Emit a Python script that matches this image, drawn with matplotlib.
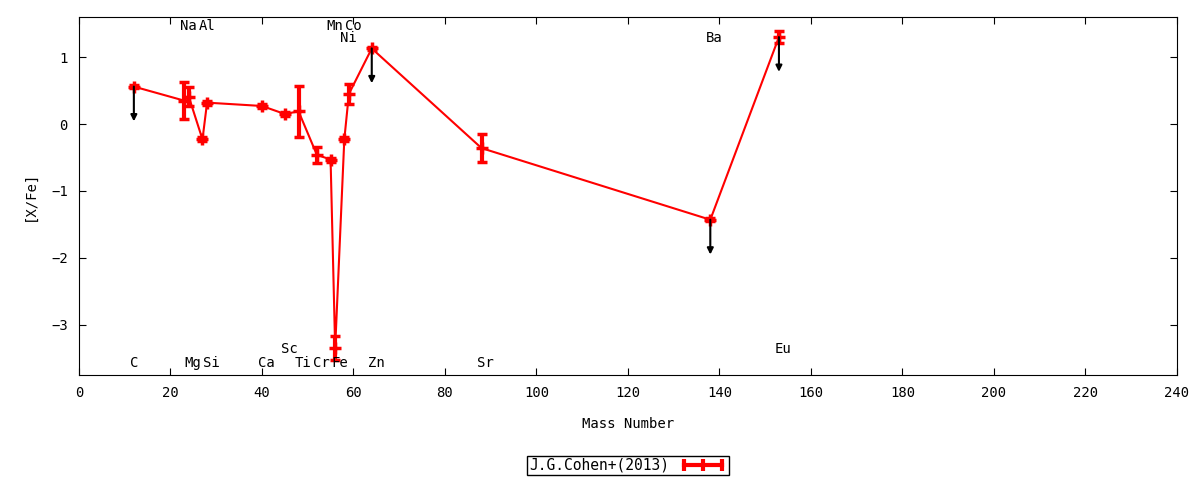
import numpy as np
import matplotlib
matplotlib.use("Agg")
import matplotlib.pyplot as plt
from matplotlib.lines import Line2D

plt.rcParams['font.family'] = ['DejaVu Sans Mono']
plt.rcParams['font.size'] = 10

# abundance data
elements = ['C', 'Na', 'Mg', 'Al', 'Si', 'Ca', 'Sc', 'Ti', 'Cr', 'Mn',
            'Fe', 'Ni', 'Co', 'Zn', 'Sr', 'Ba', 'Eu']
mass = [12, 23, 24, 27, 28, 40, 45, 48, 52, 55, 56, 58, 59, 64, 88, 138, 153]
xfe = [0.56, 0.35, 0.41, -0.23, 0.32, 0.27, 0.15, 0.19, -0.46, -0.53,
       -3.35, -0.23, 0.45, 1.13, -0.36, -1.43, 1.30]
err = [0.02, 0.28, 0.14, 0.03, 0.03, 0.03, 0.03, 0.38, 0.12, 0.03,
       0.18, 0.03, 0.15, 0.02, 0.21, 0.02, 0.09]
upper_limits = ['C', 'Zn', 'Ba', 'Eu']

# label rows: 0 = top, 1 = second from top, 2 = bottom, 3 = above bottom
label_row = {'Na': 0, 'Al': 0, 'Mn': 0, 'Co': 0, 'Ni': 1, 'Ba': 1,
             'Sc': 3, 'Eu': 3}
row_y = [1.46, 1.29, -3.57, -3.36]

fig = plt.figure(figsize=(12, 4.8), dpi=100)
ax = fig.add_axes([0.0658, 0.2188, 0.915, 0.7458])

ax.errorbar(mass, xfe, yerr=err, color='red', lw=1.5, elinewidth=3,
            capsize=3.5, capthick=3, marker='+', ms=8, mew=2.5)

for el, m, v in zip(elements, mass, xfe):
    if el in upper_limits:
        ax.annotate('', xy=(m, v - 0.52), xytext=(m, v),
                    arrowprops=dict(arrowstyle='-|>', color='black', lw=1.5,
                                    mutation_scale=9, shrinkA=0, shrinkB=0))
    y = row_y[label_row.get(el, 2)]
    ax.annotate(el, (m, y), xytext=(3 if len(el) > 1 else 0, 0),
                textcoords='offset points', ha='center', va='center')

ax.set_xlim(0, 240)
ax.set_ylim(-3.75, 1.6)
ax.set_xticks(np.arange(0, 241, 20))
ax.set_yticks([-3, -2, -1, 0, 1])
ax.tick_params(direction='in', top=True, right=True, length=5, pad=8)
ax.set_xlabel('Mass Number', labelpad=12)
ax.set_ylabel('[X/Fe]', labelpad=10)

# gnuplot-style key sample: thick line with ticks at both ends and middle
key = Line2D([], [], color='red', lw=3, marker='|', ms=8, mew=3)
leg = ax.legend([key], ['J.G.Cohen+(2013)'], loc='upper center',
                bbox_to_anchor=(0.5, -0.205), numpoints=3,
                markerfirst=False, fancybox=False, framealpha=1,
                edgecolor='black', handlelength=3.2, borderpad=0.15,
                handletextpad=0.7, fontsize=10.5)
leg.get_frame().set_linewidth(1)

fig.savefig('out.png', dpi=100)
